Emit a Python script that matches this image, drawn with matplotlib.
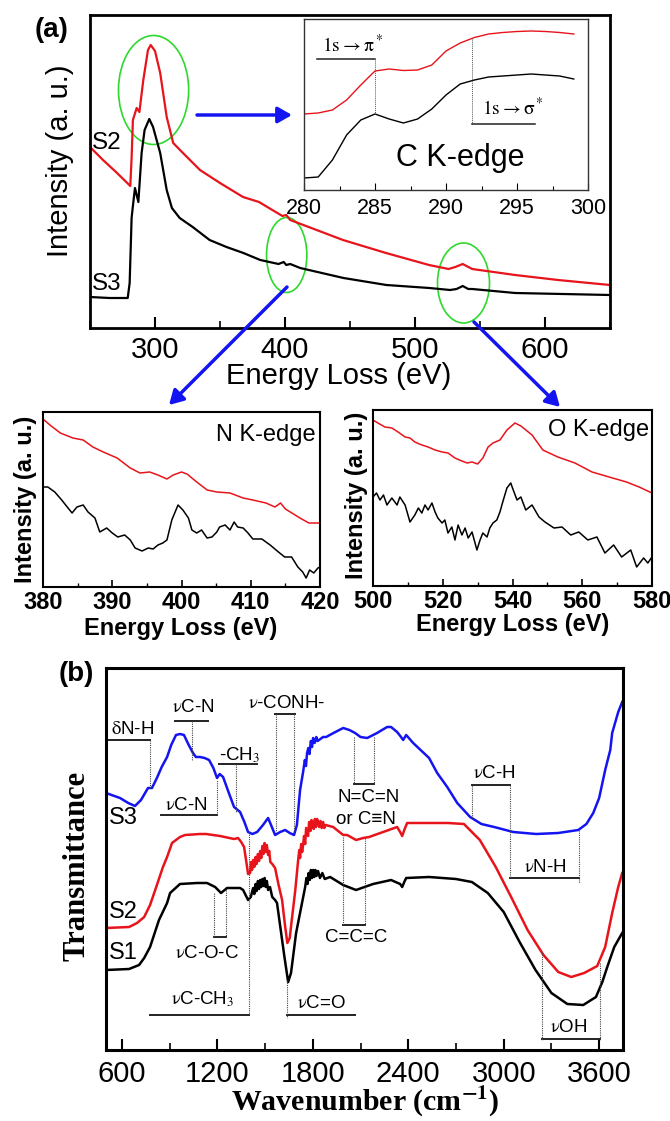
import matplotlib.pyplot as plt
from matplotlib.patches import Ellipse, FancyArrowPatch
from matplotlib.ticker import MultipleLocator

plt.rcParams['font.family'] = ['Liberation Sans', 'DejaVu Sans']
plt.rcParams['mathtext.fontset'] = 'stix'

RED = '#e8141c'
BLUE = '#1414f0'
GREEN = '#2ed82e'
SERIF = ['Liberation Serif', 'DejaVu Serif']

# ---- panel (a): full EELS spectra (energy in eV, intensity a.u.)
a_e_s2 = [250, 260, 270, 281, 282, 283, 285.9, 288, 291, 294.6, 296.7, 300, 304, 309, 314,
          321.5, 334.6, 350, 367.7, 380, 398, 401, 404, 444.6, 477.7, 510.8, 525.8, 531,
          536.7, 544, 577, 610, 650]
a_s2 = [181, 168, 156, 142, 170, 208, 220, 216, 248, 278, 283, 277, 255, 211, 185,
        175, 158, 145, 131, 126, 112, 113, 108, 88, 75, 63, 59, 61,
        64, 59, 53, 48, 43]
a_e_s3 = [250, 265, 279, 280.5, 282, 283, 284.6, 287.2, 289.7, 292, 295.6, 298.5, 304, 309,
          313, 319, 329, 342, 355, 368, 381, 395, 399, 401, 404, 411.7, 445, 478, 511, 527,
          532, 536.7, 541, 544, 577, 650]
a_s3 = [31, 30, 30, 45, 110, 122, 140, 126, 175, 198, 209, 201, 175, 138,
        120, 110, 101, 88, 81, 75, 68, 64, 66, 63, 64, 60, 50, 43, 40, 38,
        39, 42, 39, 39, 35, 33]

# C K-edge inset
c_e = [280, 281, 282, 283, 284, 285, 286, 287, 288, 289, 290, 291, 292, 293, 294, 295, 296,
       297, 298, 299]
c_s2 = [76, 77, 80, 90, 105, 119, 121, 119.5, 120, 125, 139, 147, 152.5, 156, 157.5, 158.5,
        159, 158.5, 157.5, 156]
c_s3 = [12, 13, 30, 55, 70, 76, 71, 67, 71, 81, 95, 106, 110, 113, 114, 115, 116, 115, 114, 111]

# N K-edge
n_e_s2 = [380, 381, 382.5, 384.3, 385.8, 387.2, 388.7, 390.7, 392.6, 394, 395.4, 396.6, 397.9,
          398.8, 400, 400.8, 402.2, 403.7, 405.1, 407, 408.9, 410.3, 412.2, 413.5, 414.3, 415,
          417.1, 418.4, 420]
n_s2 = [168, 162, 154, 149, 147, 140, 135, 129, 119, 114, 115, 112, 108,
        112, 115, 113, 105, 97, 95, 94, 89, 87, 84, 80, 84, 78,
        69, 64, 64]
n_e_s3 = [380, 380.7, 381.7, 382.7, 383.5, 384.2, 384.9, 385.8, 386.5, 387.5, 388.2, 389.2,
          390, 390.8, 391.8, 392.6, 393.3, 394.3, 395.2, 395.9, 396.6, 397.3, 397.9, 398.6,
          399.5, 400.2, 401, 401.5, 402.2, 402.9, 403.7, 404.4, 405.1, 405.5, 406.3, 407,
          407.6, 408.1, 408.9, 409.6, 410.3, 411.6, 412.8, 414, 414.9, 415.9, 416.8, 417.5,
          418, 418.5, 419.1, 419.7, 420]
n_s3 = [100, 100, 95, 87, 80, 74, 80, 82, 75, 69, 55, 59,
        54, 50, 52, 47, 39, 36, 39, 38, 42, 44, 47, 67,
        82, 77, 69, 57, 54, 57, 49, 50, 55, 60, 62, 57,
        65, 60, 59, 54, 48, 48, 42, 35, 30, 30, 20, 15,
        9, 17, 14, 19, 20]

# O K-edge
o_e_s2 = [500, 501.4, 503.4, 505.4, 507.2, 509.2, 510.6, 512, 514, 515.8, 517.8, 519.8, 521.5,
          523.5, 525.5, 527, 528.4, 530, 531.5, 533, 534.4, 536.4, 538.4, 540.7, 542.4, 545.6,
          548.7, 553, 557.9, 562.8, 567.7, 572.7, 576.3, 580]
o_s2 = [166, 163, 159, 158, 154, 149, 148, 144, 141, 139, 136, 134, 133,
        128, 125, 123, 124, 122, 128, 139, 143, 146, 156, 163, 160, 151,
        136, 129, 123, 114, 109, 104, 99, 93]
o_e_s3 = [500, 501, 502, 503, 504, 505.4, 506.9, 507.7, 509.2, 510.6, 512, 513, 514, 514.9,
          515.8, 516.9, 517.8, 518.6, 519.8, 520.6, 521.5, 522.6, 523.5, 524.4, 525.5, 526.4,
          527.3, 528.4, 529.8, 530.7, 531.5, 532.7, 533.5, 534.4, 535.5, 536.4, 537.2, 538.4,
          539.5, 540, 541.3, 542.4, 543.8, 545.6, 547.6, 549.3, 551.9, 554.2, 556.7, 559,
          561.6, 564.2, 566.5, 569, 571.3, 573.9, 575.6, 577.6, 578.8, 580]
o_s3 = [89, 93, 86, 91, 81, 88, 81, 89, 81, 64, 71, 78, 73, 81,
        76, 83, 74, 68, 63, 66, 53, 59, 46, 61, 51, 58,
        48, 54, 36, 46, 53, 49, 58, 63, 66, 74, 84, 98,
        103, 98, 86, 89, 76, 81, 69, 64, 58, 59, 51, 54,
        46, 49, 33, 41, 29, 36, 19, 28, 23, 29]

# ---- panel (b): FTIR (wavenumber cm-1, transmittance a.u.)
b_w_s3 = [500, 588, 640, 682, 720, 764, 789, 820, 850, 884, 910, 940, 965, 990, 1020, 1047,
          1065, 1091, 1120, 1148, 1175, 1198, 1215, 1236, 1270, 1305, 1343, 1370, 1393, 1420,
          1450, 1487, 1519, 1540, 1563, 1595, 1626, 1655, 1682, 1700, 1720, 1739, 1750, 1757,
          1764, 1772, 1779, 1788, 1795, 1802, 1812, 1822, 1830, 1865, 1884, 1930, 1991, 2030,
          2066, 2100, 2142, 2204, 2267, 2292, 2330, 2350, 2368, 2387, 2431, 2531, 2582, 2645,
          2708, 2789, 2860, 2940, 3060, 3204, 3343, 3469, 3520, 3563, 3600, 3638, 3670, 3682,
          3720, 3745]
b_s3 = [257, 252, 247, 244, 250, 262, 262, 272, 283, 293, 305, 315, 316, 315, 305, 297,
        293, 293, 292, 290, 282, 272, 276, 273, 258, 243, 238, 228, 218, 216,
        218, 225, 232, 224, 215, 218, 220, 217, 215, 225, 260, 278, 290, 284,
        297, 302, 296, 309, 303, 312, 307, 313, 309, 313, 313, 317, 322, 320,
        317, 313, 312, 317, 323, 323, 318, 314, 310, 315, 307, 292, 277, 263,
        247, 233, 226, 223, 218, 216, 217, 220, 226, 237, 252, 280, 300, 317,
        338, 348]
b_w_s2 = [500, 645, 695, 740, 777, 820, 858, 884, 915, 965, 997, 1091, 1129, 1217, 1305, 1330,
          1350, 1368, 1385, 1393, 1406, 1412, 1418, 1425, 1432, 1440, 1447, 1455, 1462, 1469,
          1476, 1483, 1490, 1497, 1504, 1511, 1519, 1526, 1533, 1545, 1563, 1585, 1607, 1625,
          1640, 1655, 1670, 1690, 1708, 1715, 1720, 1727, 1733, 1739, 1745, 1752, 1758, 1764,
          1770, 1777, 1785, 1792, 1800, 1806, 1813, 1820, 1827, 1833, 1840, 1848, 1856, 1865,
          1872, 1880, 1928, 1991, 2016, 2072, 2117, 2154, 2242, 2330, 2349, 2362, 2375, 2393,
          2531, 2650, 2750, 2850, 2950, 3050, 3150, 3250, 3343, 3425, 3506, 3588, 3638, 3682,
          3720, 3745]
b_s2 = [122, 123, 127, 133, 145, 165, 183, 193, 207, 213, 215, 216, 216, 214, 211, 212,
        208, 203, 185, 176, 177, 188, 180, 190, 183, 193, 186, 196, 189, 199,
        192, 204, 196, 207, 198, 205, 195, 199, 188, 186, 182, 165, 150, 125,
        107, 112, 133, 160, 190, 200, 192, 206, 198, 205, 214, 206, 222, 220,
        214, 228, 219, 230, 226, 221, 231, 223, 231, 228, 223, 229, 222, 228,
        222, 225, 223, 215, 215, 210, 212, 213, 218, 223, 218, 214, 220, 227,
        227, 227, 226, 210, 183, 152, 120, 95, 78, 73, 77, 84, 103, 137,
        163, 177]
b_w_s1 = [500, 645, 708, 740, 777, 833, 884, 903, 965, 1072, 1135, 1186, 1223, 1261, 1343, 1362,
          1393, 1410, 1425, 1432, 1440, 1447, 1455, 1462, 1469, 1476, 1483, 1490, 1497, 1504,
          1511, 1519, 1531, 1545, 1563, 1575, 1601, 1620, 1645, 1663, 1695, 1752, 1760, 1767,
          1774, 1781, 1788, 1795, 1802, 1809, 1816, 1823, 1833, 1845, 1860, 1875, 1909, 1991,
          2072, 2179, 2292, 2349, 2362, 2375, 2387, 2531, 2700, 2800, 2900, 3000, 3100, 3200,
          3300, 3400, 3500, 3580, 3620, 3651, 3695, 3745]
b_s1 = [80, 81, 85, 92, 103, 130, 147, 157, 166, 167, 167, 163, 157, 162, 162, 160,
        150, 153, 162, 156, 166, 159, 169, 161, 170, 163, 171, 164, 172, 163,
        169, 160, 163, 153, 150, 147, 117, 95, 68, 77, 117, 163, 172, 166,
        177, 170, 180, 172, 180, 173, 180, 174, 179, 172, 177, 171, 173, 165,
        160, 166, 170, 166, 163, 168, 172, 173, 171, 168, 157, 138, 108, 80,
        57, 46, 45, 53, 68, 83, 103, 117]

# band markers in (b): horizontal bars (x0, x1, y) and dotted drop lines (x, y0, y1)
b_bars = [(519, 777, 310), (934, 1141, 329), (1211, 1450, 286), (846, 1198, 235),
          (1563, 1689, 336), (1179, 1255, 113), (777, 1399, 35), (1638, 2066, 35),
          (2060, 2186, 266), (1991, 2129, 125), (2802, 3041, 265), (3041, 3475, 172),
          (3242, 3607, 11)]
b_drops = [(777, 310, 262), (1041, 329, 290), (1318, 286, 238), (1198, 235, 270),
           (1569, 336, 218), (1682, 336, 218), (1179, 157, 113), (1255, 160, 113),
           (1399, 218, 35), (1638, 70, 32), (2060, 313, 266), (2186, 313, 266),
           (1991, 213, 125), (2129, 212, 125), (2802, 232, 265), (3041, 265, 172),
           (3475, 220, 167), (3242, 98, 10), (3607, 87, 10)]
NU = r'$\mathrm{\nu}$'
b_labels = [(r'$\mathrm{\delta}$N-H', 670, 320), (NU + 'C-N', 1047, 343), (r'-CH$_3$', 1343, 295),
            (NU + 'C-N', 1003, 244), (NU + '-CONH-', 1638, 346), (NU + 'C-O-C', 1135, 97),
            (NU + r'C-CH$_3$', 1110, 51), (NU + 'C=O', 1852, 47), ('N=C=N', 2148, 253),
            ('or C\u2261N', 2135, 230), ('C=C=C', 2072, 112), (NU + 'C-H', 2940, 276),
            (NU + 'N-H', 3261, 182), (NU + 'OH', 3406, 22)]

W, H = 670, 1121


def box(l, t, r, b):
    # pixel box (top-left origin) -> figure fraction rect
    return [l / W, 1 - b / H, (r - l) / W, (b - t) / H]


def fpt(x, y):
    return (x / W, 1 - y / H)


fig = plt.figure(figsize=(6.7, 11.21), dpi=100)

# main (a)
ax = fig.add_axes(box(90, 15, 610, 328))
ax.plot(a_e_s2, a_s2, color=RED, lw=1.6)
ax.plot(a_e_s3, a_s3, color='k', lw=1.6)
ax.set_xlim(250, 650)
ax.set_ylim(0, 313)
ax.set_yticks([])
ax.set_xticks([300, 400, 500, 600])
ax.xaxis.set_minor_locator(MultipleLocator(50))
ax.tick_params(axis='x', which='major', direction='in', length=8, width=1.5, labelsize=21, pad=6)
ax.tick_params(axis='x', which='minor', direction='in', length=5, width=1.2)
for s in ax.spines.values():
    s.set_linewidth(2)
for (cx, cy, ew, eh) in [(298.9, 238, 54, 109), (401.3, 73, 31, 75), (537.3, 45, 40, 80)]:
    ax.add_patch(Ellipse((cx, cy), ew, eh, fill=False, ec=GREEN, lw=1.2))

fig.text(*fpt(60, 161), 'Intensity (a. u.)', rotation=90, ha='center', va='center', fontsize=21)
fig.text(*fpt(339, 376), 'Energy Loss (eV)', ha='center', va='center', fontsize=21)
fig.text(*fpt(52, 30), '(a)', ha='center', va='center', fontsize=20, fontweight='bold')
fig.text(*fpt(107, 143), 'S2', ha='center', va='center', fontsize=17.5)
fig.text(*fpt(107, 284), 'S3', ha='center', va='center', fontsize=17.5)

# inset C K-edge
axi = fig.add_axes(box(304, 19, 588, 190))
axi.plot(c_e, c_s2, color=RED, lw=1.0)
axi.plot(c_e, c_s3, color='k', lw=1.0)
axi.set_xlim(280, 300)
axi.set_ylim(0, 171)
axi.set_yticks([])
axi.set_xticks([280, 285, 290, 295, 300])
axi.xaxis.set_minor_locator(MultipleLocator(2.5))
axi.tick_params(axis='x', which='major', direction='in', length=5, width=0.8, labelsize=15.5, pad=6)
axi.tick_params(axis='x', which='minor', direction='in', length=3, width=0.8)
for s in axi.spines.values():
    s.set_linewidth(1.0)
    s.set_color('#333333')
axi.plot([280.9, 285], [131, 131], color='#222222', lw=1.1)
axi.plot([285, 285], [131, 76], color='#555555', lw=0.7, ls=(0, (1, 1)))
axi.plot([291.8, 291.8], [152, 66], color='#555555', lw=0.7, ls=(0, (1, 1)))
axi.plot([291.8, 296.3], [66, 66], color='#222222', lw=1.1)
axi.text(281.3, 145, r'$\mathrm{1s}\rightarrow\mathrm{\pi}^*$', fontsize=14, va='center')
axi.text(292.5, 82, r'$\mathrm{1s}\rightarrow\mathrm{\sigma}^*$', fontsize=14, va='center')
axi.text(291, 32, 'C K-edge', fontsize=22, ha='center', va='center')

# N K-edge
axn = fig.add_axes(box(43, 412, 320, 587))
axn.plot(n_e_s2, n_s2, color=RED, lw=1.1)
axn.plot(n_e_s3, n_s3, color='k', lw=1.1)
axn.set_xlim(380, 420)
axn.set_ylim(0, 175)
axn.set_xticks([380, 390, 400, 410, 420])
axn.xaxis.set_minor_locator(MultipleLocator(5))
axn.text(0.985, 0.93, 'N K-edge', transform=axn.transAxes, ha='right', va='top', fontsize=17)

# O K-edge
axo = fig.add_axes(box(373, 410, 652, 586))
axo.plot(o_e_s2, o_s2, color=RED, lw=1.1)
axo.plot(o_e_s3, o_s3, color='k', lw=1.1)
axo.set_xlim(500, 580)
axo.set_ylim(0, 176)
axo.set_xticks([500, 520, 540, 560, 580])
axo.xaxis.set_minor_locator(MultipleLocator(10))
axo.text(0.99, 0.95, 'O K-edge', transform=axo.transAxes, ha='right', va='top', fontsize=17)

for a in (axn, axo):
    a.set_yticks([])
    a.tick_params(axis='x', which='major', direction='in', length=5, width=1.2, labelsize=17, pad=3)
    a.tick_params(axis='x', which='minor', direction='in', length=3, width=1.0)
    for lbl in a.get_xticklabels():
        lbl.set_fontweight('bold')
    for s in a.spines.values():
        s.set_linewidth(1.5)

fig.text(*fpt(26, 499), 'Intensity (a. u.)', rotation=90, ha='center', va='center', fontsize=17,
         fontweight='bold')
fig.text(*fpt(357, 495), 'Intensity (a. u.)', rotation=90, ha='center', va='center', fontsize=17,
         fontweight='bold')
fig.text(*fpt(181, 628), 'Energy Loss (eV)', ha='center', va='center', fontsize=17, fontweight='bold')
fig.text(*fpt(513, 625), 'Energy Loss (eV)', ha='center', va='center', fontsize=17, fontweight='bold')

# blue arrows
for p0, p1 in [((197, 115), (292, 115)), ((287, 287), (169, 405)), ((474, 322), (560, 407))]:
    fig.add_artist(FancyArrowPatch(fpt(*p0), fpt(*p1), transform=fig.transFigure,
                                   arrowstyle='-|>,head_length=0.7,head_width=0.4',
                                   mutation_scale=12, lw=2.5, color=BLUE,
                                   shrinkA=0, shrinkB=0, zorder=10))

# panel (b)
axb = fig.add_axes(box(106, 668, 623, 1050))
axb.plot(b_w_s3, b_s3, color=BLUE, lw=1.8)
axb.plot(b_w_s2, b_s2, color=RED, lw=1.8)
axb.plot(b_w_s1, b_s1, color='k', lw=1.8)
axb.set_xlim(500, 3750)
axb.set_ylim(0, 382)
axb.set_yticks([])
axb.set_xticks([600, 1200, 1800, 2400, 3000, 3600])
axb.xaxis.set_minor_locator(MultipleLocator(300))
axb.tick_params(axis='x', which='major', direction='in', length=8, width=1.5, labelsize=21, pad=7)
axb.tick_params(axis='x', which='minor', direction='in', length=5, width=1.2)
for s in axb.spines.values():
    s.set_linewidth(2.2)

for x0, x1, y in b_bars:
    axb.plot([x0, x1], [y, y], color='#222222', lw=1.4)
for x, y0, y1 in b_drops:
    axb.plot([x, x], [y0, y1], color='#444444', lw=0.8, ls=(0, (1, 1)))
for txt, x, y in b_labels:
    axb.text(x, y, txt, ha='center', va='center', fontsize=13.5)

fig.text(*fpt(123, 818), 'S3', ha='center', va='center', fontsize=17)
fig.text(*fpt(123, 912), 'S2', ha='center', va='center', fontsize=17)
fig.text(*fpt(123, 953), 'S1', ha='center', va='center', fontsize=17)
fig.text(*fpt(76, 674), '(b)', ha='center', va='center', fontsize=20, fontweight='bold')
fig.text(*fpt(77, 866), 'Transmittance', rotation=90, ha='center', va='center', fontsize=22,
         fontweight='bold', family=SERIF)
fig.text(*fpt(365, 1102), r'Wavenumber (cm$^{\mathbf{-1}}$)', ha='center', va='center',
         fontsize=21.5, fontweight='bold', family=SERIF)

fig.savefig('out.png', dpi=100)
